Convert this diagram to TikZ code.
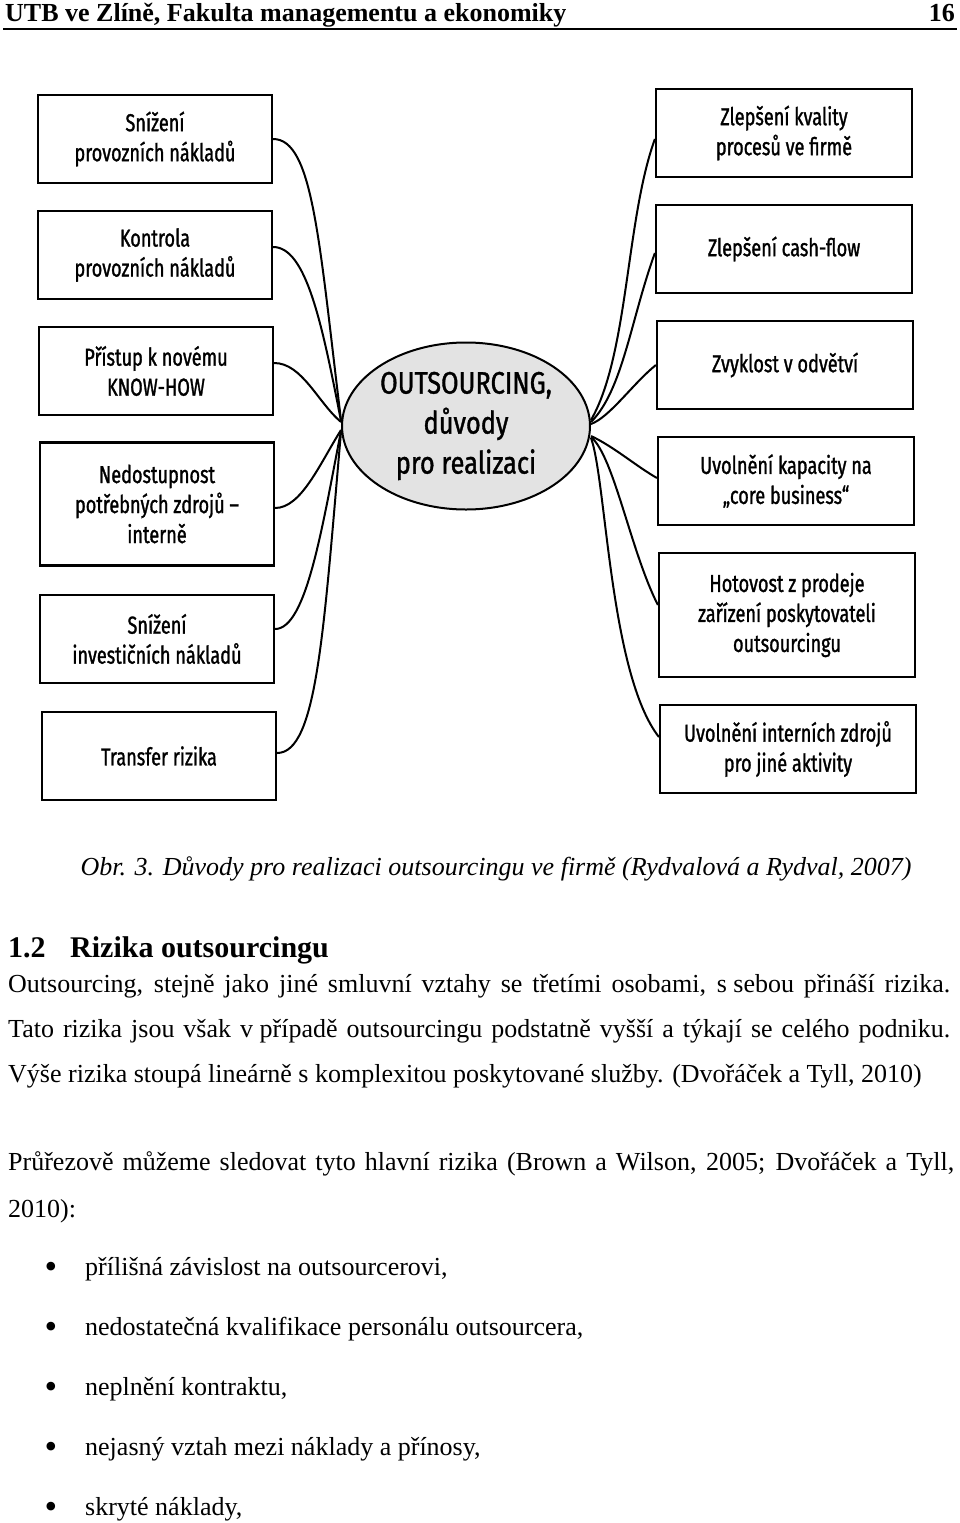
\documentclass[tikz,border=0pt]{standalone}
\usepackage{fontspec}
\setmainfont{Liberation Serif}
\newfontfamily\diagfont[FakeStretch=0.74,FakeBold=1.2]{Fira Sans}
\newfontfamily\hubfont[FakeStretch=0.82,FakeBold=1.2]{Fira Sans}
\usetikzlibrary{shapes.geometric}

\begin{document}
\begin{tikzpicture}[x=1pt,y=1pt,
  reason/.style={draw, line width=2.2pt, align=center, inner sep=0pt, minimum height=88pt,
    font=\diagfont\fontsize{24.5}{30}\selectfont},
  lbox/.style={reason, minimum width=234pt},
  rbox/.style={reason, minimum width=256pt},
  link/.style={line width=2pt},
  body/.style={anchor=base west, inner sep=0pt, font=\fontsize{26}{26}\selectfont}]
\useasboundingbox[fill=white] (0,0) rectangle (960,-1523);

\node[body, font=\bfseries\fontsize{26}{26}\selectfont] (hdr) at (5,-21) {UTB ve Zlíně, Fakulta managementu a ekonomiky};
\node[body, anchor=base east, font=\bfseries\fontsize{26}{26}\selectfont] (pg) at (955,-21) {16};
\draw[line width=1.4pt] (3,-29) -- (957,-29);

\node[lbox] (l1) at (155,-139) {Snížení\\provozních nákladů};
\node[lbox] (l2) at (155,-255) {Kontrola\\provozních nákladů};
\node[lbox] (l3) at (156,-371) {Přístup k novému\\KNOW-HOW};
\node[lbox, minimum height=123pt] (l4) at (157,-504) {Nedostupnost\\potřebných zdrojů –\\interně};
\node[lbox] (l5) at (157,-639) {Snížení\\investičních nákladů};
\node[lbox] (l6) at (159,-756) {Transfer rizika};

\node[rbox] (r1) at (784,-133) {Zlepšení kvality\\procesů ve firmě};
\node[rbox] (r2) at (784,-249) {Zlepšení cash-flow};
\node[rbox] (r3) at (785,-365) {Zvyklost v odvětví};
\node[rbox] (r4) at (786,-481) {Uvolnění kapacity na\\„core business“};
\node[rbox, minimum height=124pt] (r5) at (787,-615) {Hotovost z prodeje\\zařízení poskytovateli\\outsourcingu};
\node[rbox] (r6) at (788,-749) {Uvolnění interních zdrojů\\pro jiné aktivity};

\node[ellipse, draw, line width=2pt, fill=gray!22, minimum width=248pt, minimum height=167pt,
  inner sep=0pt, align=center, font=\hubfont\fontsize{31}{40}\selectfont] (hub) at (466,-426)
  {OUTSOURCING,\\důvody\\pro realizaci};

\draw[link] (l1.east) to[out=0,in=97,out distance=40pt,in distance=180pt] ([yshift=6pt]hub.west);
\draw[link] ([yshift=8pt]l2.east) to[out=0,in=101,out distance=33pt,in distance=100pt] ([yshift=5pt]hub.west);
\draw[link] ([yshift=8pt]l3.east) to[out=0,in=140,out distance=28pt,in distance=30pt] ([yshift=4pt]hub.west);
\draw[link] ([yshift=-4pt]l4.east) to[out=0,in=238,out distance=26pt,in distance=41pt] ([yshift=-4pt]hub.west);
\draw[link] ([yshift=10pt]l5.east) to[out=0,in=259,out distance=31pt,in distance=100pt] ([yshift=-5pt]hub.west);
\draw[link] ([yshift=3pt]l6.east) to[out=0,in=265,out distance=40pt,in distance=200pt] ([yshift=-6pt]hub.west);

\draw[link] ([yshift=6pt]hub.east) to[out=60,in=250,out distance=75pt,in distance=85pt] ([yshift=-6pt]r1.west);
\draw[link] ([yshift=4pt]hub.east) to[out=45,in=250,out distance=45pt,in distance=70pt] ([yshift=-4pt]r2.west);
\draw[link] ([yshift=2pt]hub.east) to[out=20,in=219,out distance=20pt,in distance=30pt] (r3.west);
\draw[link] ([yshift=-10pt]hub.east) to[out=-25,in=150,out distance=25pt,in distance=25pt] ([yshift=3pt]r4.west);
\draw[link] ([yshift=-11pt]hub.east) to[out=-40,in=117,out distance=30pt,in distance=60pt] ([yshift=10pt]r5.west);
\draw[link] ([yshift=-12pt]hub.east) to[out=-70,in=128,out distance=45pt,in distance=80pt] ([yshift=12pt]r6.west);

\node[body, anchor=base, font=\itshape\fontsize{26}{26}\selectfont] (cap) at (496,-875)
  {Obr. 3. Důvody pro realizaci outsourcingu ve firmě (Rydvalová a Rydval, 2007)};

\node[body, font=\bfseries\fontsize{30}{30}\selectfont] (secnum) at (8,-957) {1.2};
\node[body, font=\bfseries\fontsize{30}{30}\selectfont] (sec) at (70,-957) {Rizika outsourcingu};

\node[body] (p1) at (8,-992) {\makebox[942pt][s]{Outsourcing, stejně jako jiné smluvní vztahy se třetími osobami, \mbox{s sebou} přináší rizika.}};
\node[body] (p2) at (8,-1037) {\makebox[942pt][s]{Tato rizika jsou však \mbox{v případě} outsourcingu podstatně vyšší a týkají se celého podniku.}};
\node[body] (p3) at (8,-1082) {Výše rizika stoupá lineárně \mbox{s komplexitou} poskytované služby. (Dvořáček a Tyll, 2010)};
\node[body] (p4) at (8,-1170) {\makebox[946pt][s]{Průřezově můžeme sledovat tyto hlavní rizika (Brown a Wilson, 2005; Dvořáček a Tyll,}};
\node[body] (p5) at (8,-1217) {2010):};

\foreach \txt [count=\i] in {{přílišná závislost na outsourcerovi,},
  {nedostatečná kvalifikace personálu outsourcera,},
  {neplnění kontraktu,},
  {nejasný vztah mezi náklady a přínosy,},
  {skryté náklady,}} {
  \node[body, anchor=base, font=\fontsize{36}{36}\selectfont] (dot\i) at (51,-1218-60*\i) {\textbullet};
  \node[body] (item\i) at (85,-1215-60*\i) {\txt};
}
\end{tikzpicture}
\end{document}
